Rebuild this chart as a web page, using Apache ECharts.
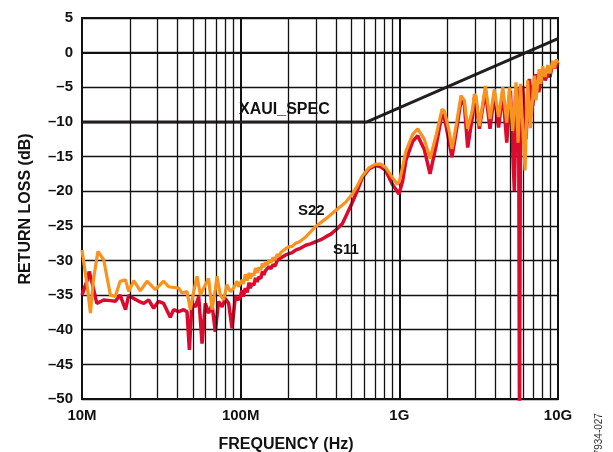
<!DOCTYPE html>
<html>
<head>
<meta charset="utf-8">
<script src="https://cdn.jsdelivr.net/npm/echarts@6/dist/echarts.min.js"></script>
<style>
html,body{margin:0;padding:0;background:#fff;}
#c{width:613px;height:452px;}
</style>
</head>
<body>
<div id="c"></div>
<script>
// ---- data (frequency in MHz, return loss in dB) ----
const s11Freq = [10.0,10.2,10.8,11.1,11.6,12.4,13.7,15.1,16.2,17.4,18.8,19.7,21.2,22.8,24.5,26.3,28.3,30.4,32.7,36.0,37.8,40.7,43.7,45.9,47.5,49.3,51.8,54.4,57.1,59.9,62.8,66.0,69.2,72.6,76.3,80.0,84.0,88.2,92.6,97.1,
  100,102,104,107,110,113,115,118,121,124,127,130,134,137,140,143,147,151,155,160,165,170,174,180,185,192,202,210,222,235,257,275,297,320,343,370,397,437,470,506,544,585,644,709,763,820,903,995,
  1050,1102,1214,1305,1437,1561,1703,1858,1921,2045,2147,2298,2447,2569,2697,2899,2970,3042,3195,3487,3729,3966,4223,4489,4753,5013,5307,5490,5650,5720,5800,5988,6284,6595,6922,7265,7566,8004,8300,8607,8900,9256,9620,10000];
const s11Db = [-35.0,-35.0,-32.8,-31.6,-33.3,-36.2,-35.7,-35.8,-35.9,-35.0,-37.1,-35.0,-35.5,-35.9,-36.2,-35.7,-36.9,-35.9,-36.2,-38.2,-37.1,-37.4,-37.1,-37.4,-42.9,-36.2,-36.7,-35.2,-42.0,-36.2,-37.6,-36.4,-40.3,-35.9,-36.7,-35.5,-36.2,-39.8,-35.2,-35.7,
  -35.0,-34.3,-35.2,-34.0,-34.6,-33.2,-34.0,-33.3,-33.6,-32.5,-33.1,-32.4,-32.6,-31.6,-32.1,-31.5,-31.7,-30.9,-31.2,-30.6,-30.8,-30.0,-30.2,-29.6,-29.8,-29.2,-29.0,-28.9,-28.5,-28.3,-27.8,-27.6,-27.3,-27.0,-26.6,-26.2,-25.6,-24.7,-23.2,-21.6,-19.9,-18.0,-16.8,-16.3,-16.5,-17.0,-19.0,-20.4,
  -18.5,-15.5,-12.8,-12.0,-14.0,-17.5,-13.5,-8.9,-9.3,-12.5,-15.1,-11.0,-6.9,-7.5,-13.7,-9.0,-6.5,-7.0,-11.0,-5.5,-11.0,-6.0,-10.8,-5.7,-13.0,-5.5,-20.0,-5.0,-7.0,-56.0,-7.0,-4.8,-12.5,-3.8,-7.7,-3.1,-5.7,-2.4,-4.0,-3.1,-3.5,-1.4,-2.2,-1.4];

const s22Freq = [10.0,10.2,10.8,11.3,11.8,12.6,13.7,15.1,16.2,17.4,18.8,19.7,21.2,23.3,25.7,29.0,32.7,35.2,40.7,42.7,45.9,48.2,50.6,53.1,55.7,59.9,62.8,66.0,69.2,70.9,74.4,78.1,82.0,86.1,90.3,94.8,97.1,
  102,104,107,110,113,115,118,121,124,127,130,134,137,140,143,147,151,155,160,165,170,174,180,185,192,202,210,222,235,257,297,343,397,459,506,544,585,644,709,763,820,903,971,
  1000,1050,1100,1214,1305,1437,1561,1703,1858,1921,2045,2147,2298,2447,2569,2697,2899,2970,3042,3195,3487,3729,3966,4223,4489,4753,4941,5180,5437,5600,5800,6200,6437,6700,7091,7265,7600,7800,8004,8300,8607,8900,9256,9500,9750,10000];
const s22Db = [-28.5,-28.7,-33.8,-37.6,-32.8,-28.7,-29.9,-35.0,-35.2,-33.0,-32.8,-34.5,-32.9,-34.4,-33.0,-34.2,-33.0,-33.8,-34.0,-34.7,-34.5,-37.1,-34.5,-32.3,-35.0,-33.5,-32.6,-37.1,-34.2,-32.3,-35.0,-35.7,-33.5,-34.5,-34.0,-33.0,-33.8,
  -32.8,-33.4,-32.0,-32.9,-31.8,-32.6,-31.9,-32.2,-31.1,-31.8,-31.0,-31.4,-30.4,-31.0,-30.3,-30.7,-29.9,-30.3,-29.6,-29.9,-29.1,-29.4,-28.8,-29.0,-28.3,-28.0,-28.0,-27.5,-27.3,-26.6,-25.1,-24.0,-22.8,-21.6,-20.4,-19.2,-17.8,-16.6,-16.1,-16.1,-16.6,-18.0,-19.0,
  -18.6,-16.5,-14.2,-11.8,-11.0,-12.5,-15.3,-12.0,-8.2,-8.4,-11.0,-13.9,-10.1,-6.2,-6.9,-11.0,-8.1,-6.0,-6.3,-10.6,-4.8,-9.6,-5.3,-9.3,-5.0,-10.1,-5.0,-11.3,-4.3,-13.0,-4.5,-17.0,-4.0,-10.9,-3.3,-6.9,-2.4,-4.5,-2.0,-3.5,-1.8,-3.0,-1.2,-2.2,-1.0,-1.5];

const specFreq = [10, 625, 10000];
const specDb = [-10, -10, 2.04];

const xTickValues = [10, 100, 1000, 10000];
const xTickLabels = ['10M', '100M', '1G', '10G'];
const minorFreqs = [20,30,40,50,60,70,80,90,200,300,400,500,600,700,800,900,2000,3000,4000,5000,6000,7000,8000,9000];

const zip = (a, b) => a.map((v, i) => [v, b[i]]);
const FONT = '"Liberation Sans", Arial, Helvetica, sans-serif';

const chart = echarts.init(document.getElementById('c'), null, {renderer: 'canvas'});
chart.setOption({
  animation: false,
  backgroundColor: '#ffffff',
  grid: {left: 82, right: 55, top: 18, bottom: 53, show: true, borderColor: '#111', borderWidth: 2, backgroundColor: 'transparent'},
  xAxis: {
    type: 'log', logBase: 10, min: 10, max: 10000,
    axisLine: {show: true, lineStyle: {color: '#111', width: 2}},
    axisTick: {show: false},
    splitLine: {show: true, lineStyle: {color: '#111', width: 2}},
    axisLabel: {
      margin: 9, color: '#111', fontFamily: FONT, fontWeight: 'bold', fontSize: 15,
      formatter: v => { const i = xTickValues.findIndex(t => Math.abs(t - v) / t < 1e-6); return i >= 0 ? xTickLabels[i] : ''; }
    }
  },
  yAxis: {
    type: 'value', min: -50, max: 5, interval: 5,
    axisLine: {show: true, lineStyle: {color: '#111', width: 2}},
    axisTick: {show: false},
    splitLine: {show: true, lineStyle: {color: '#111', width: 1.3}},
    axisLabel: {
      margin: 9, color: '#111', fontFamily: FONT, fontWeight: 'bold', fontSize: 15,
      formatter: v => v < 0 ? '\u2013' + Math.abs(v) : String(v)
    }
  },
  series: [
    {
      type: 'line', data: [], silent: true, z: 1,
      markLine: {
        silent: true, symbol: ['none', 'none'], label: {show: false},
        lineStyle: {color: '#111', width: 1.3, type: 'solid'},
        data: minorFreqs.map(f => ({xAxis: f}))
      }
    },
    {
      name: 'XAUI_SPEC', type: 'line', data: zip(specFreq, specDb), showSymbol: false, z: 3,
      lineStyle: {color: '#231F20', width: 3}
    },
    {
      name: 'S11', type: 'line', data: zip(s11Freq, s11Db), showSymbol: false, z: 4,
      lineStyle: {color: '#DC0A2E', width: 3.5}, clip: true
    },
    {
      name: 'S22', type: 'line', data: zip(s22Freq, s22Db), showSymbol: false, z: 5,
      lineStyle: {color: '#F7931E', width: 3.2}, clip: true
    }
  ],
  graphic: [
    {type: 'text', x: 239, y: 110, z: 10, style: {text: 'XAUI_SPEC', font: 'bold 16px ' + FONT, fill: '#111', textAlign: 'left', textVerticalAlign: 'middle'}},
    {type: 'text', x: 298, y: 211, z: 10, style: {text: 'S22', font: 'bold 15px ' + FONT, fill: '#111', textAlign: 'left', textVerticalAlign: 'middle'}},
    {type: 'text', x: 333, y: 250, z: 10, style: {text: 'S11', font: 'bold 15px ' + FONT, fill: '#111', textAlign: 'left', textVerticalAlign: 'middle'}},
    {type: 'text', x: 286, y: 445, z: 10, style: {text: 'FREQUENCY (Hz)', font: 'bold 16px ' + FONT, fill: '#111', textAlign: 'center', textVerticalAlign: 'middle'}},
    {type: 'text', x: 26, y: 209, rotation: Math.PI / 2, z: 10, style: {text: 'RETURN LOSS (dB)', font: 'bold 16px ' + FONT, fill: '#111', textAlign: 'center', textVerticalAlign: 'middle'}},
    {type: 'text', x: 599, y: 437, rotation: Math.PI / 2, z: 10, style: {text: '07934-027', font: '10px ' + FONT, fill: '#333', textAlign: 'center', textVerticalAlign: 'middle'}}
  ]
});
</script>
</body>
</html>
